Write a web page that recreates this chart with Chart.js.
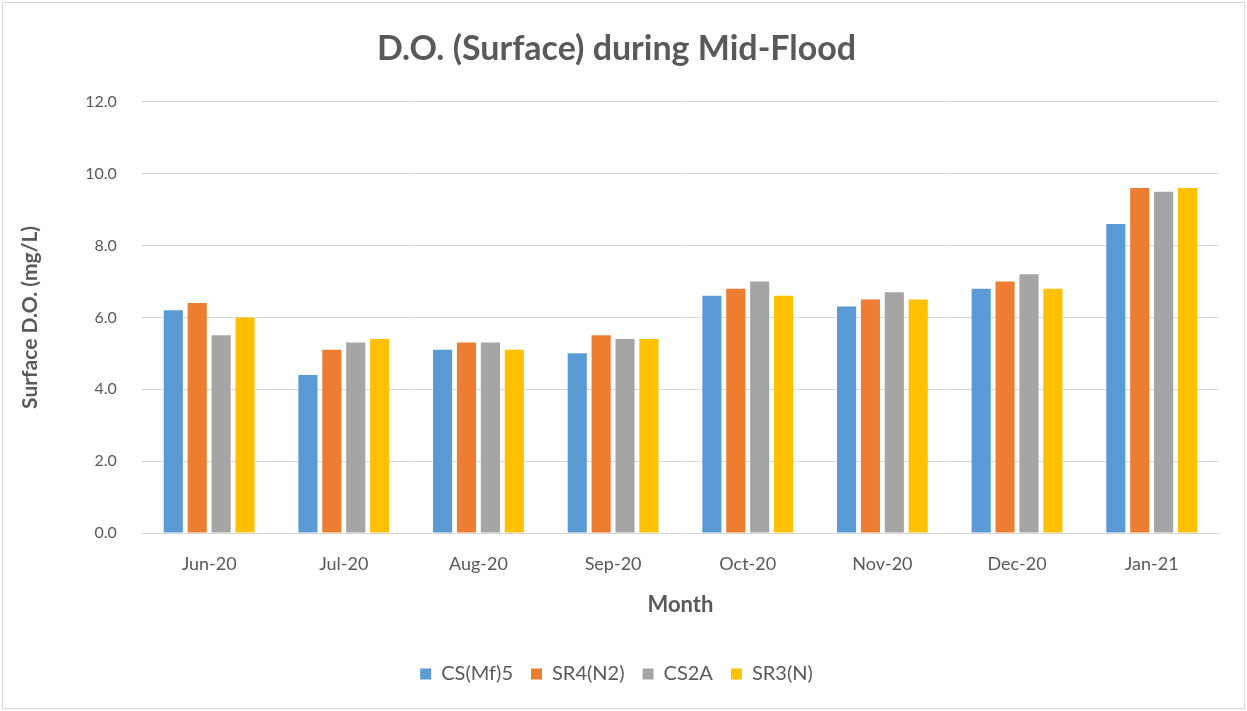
<!DOCTYPE html>
<html>
<head>
<meta charset="utf-8">
<script src="https://cdn.jsdelivr.net/npm/chart.js@4.4.1/dist/chart.umd.min.js"></script>
<style>
  html, body { margin: 0; padding: 0; background: #fff; }
  #wrap { width: 1247px; height: 711px; position: relative; }
</style>
</head>
<body>
<div id="wrap"><canvas id="chart"></canvas></div>
<script>
// data
const months  = ['Jun-20', 'Jul-20', 'Aug-20', 'Sep-20', 'Oct-20', 'Nov-20', 'Dec-20', 'Jan-21'];
const csMf5   = [6.2, 4.4, 5.1, 5.0, 6.6, 6.3, 6.8, 8.6];
const sr4N2   = [6.4, 5.1, 5.3, 5.5, 6.8, 6.5, 7.0, 9.6];
const cs2A    = [5.5, 5.3, 5.3, 5.4, 7.0, 6.7, 7.2, 9.5];
const sr3N    = [6.0, 5.4, 5.1, 5.4, 6.6, 6.5, 6.8, 9.6];
const seriesNames  = ['CS(Mf)5', 'SR4(N2)', 'CS2A', 'SR3(N)'];
const seriesColors = ['#5b9bd5', '#ed7d31', '#a5a5a5', '#ffc000'];

const FONT = 'Lato, "Open Sans", sans-serif';
const GREY_TXT = '#595959';

// light frame round the whole chart, like the excel export
const frame = {
  id: 'frame',
  beforeDraw(chart){
    const c = chart.ctx;
    c.save();
    c.fillStyle = '#fff';
    c.fillRect(0, 0, chart.width, chart.height);
    c.strokeStyle = '#d9d9d9';
    c.lineWidth = 1;
    c.strokeRect(2.5, 2.5, chart.width - 5, chart.height - 5);
    c.restore();
  }
};

const datasets = [csMf5, sr4N2, cs2A, sr3N].map((vals, i) => ({
  label: seriesNames[i],
  data: vals,
  backgroundColor: seriesColors[i],
  borderWidth: 0,
  categoryPercentage: 0.71,
  barPercentage: 0.8
}));

const setup = {
  type: 'bar',
  data: { labels: months, datasets: datasets },
  plugins: [frame],
  options: {
    responsive: true,
    maintainAspectRatio: false,
    animation: false,
    layout: { padding: { top: 29, left: 14, right: 28, bottom: 17 } },
    plugins: {
      title: {
        display: true,
        text: 'D.O. (Surface) during Mid-Flood',
        color: GREY_TXT,
        font: { family: FONT, size: 34, weight: 'bold' },
        padding: { top: 0, bottom: 32 }
      },
      legend: {
        display: true,
        position: 'bottom',
        labels: {
          color: GREY_TXT,
          font: { family: FONT, size: 20 },
          boxWidth: 11,
          boxHeight: 11,
          padding: 18
        }
      },
      tooltip: { enabled: false }
    },
    scales: {
      x: {
        grid: { display: false, drawTicks: false },
        border: { display: true, color: '#d9d9d9' },
        ticks: { color: GREY_TXT, font: { family: FONT, size: 18 }, padding: 20 },
        title: {
          display: true,
          text: 'Month',
          color: GREY_TXT,
          font: { family: FONT, size: 22, weight: 'bold' },
          padding: { top: -3, bottom: 28 }
        }
      },
      y: {
        min: 0,
        max: 12,
        grid: { color: '#d9d9d9', drawTicks: false },
        border: { display: false },
        ticks: {
          stepSize: 2,
          color: GREY_TXT,
          font: { family: FONT, size: 16 },
          padding: 25,
          callback: v => v.toFixed(1)
        },
        title: {
          display: true,
          text: 'Surface D.O. (mg/L)',
          color: GREY_TXT,
          font: { family: FONT, size: 21, weight: 'bold' },
          padding: { bottom: 17 }
        }
      }
    }
  }
};

new Chart(document.getElementById('chart'), setup);
</script>
</body>
</html>
